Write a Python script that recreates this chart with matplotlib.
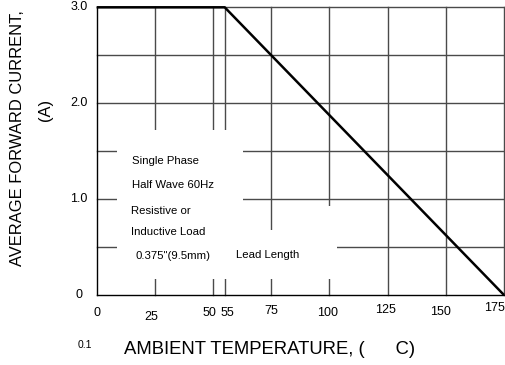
import matplotlib
matplotlib.use("Agg")
import matplotlib.pyplot as plt
import matplotlib.transforms as mtransforms
from matplotlib.patches import Rectangle

# ---- data ----
curve_temp = [0, 55, 175]
curve_current = [3.0, 3.0, 0.0]
x_ticks = [0, 25, 50, 55, 75, 100, 125, 150, 175]
x_tick_labels = ["0", "25", "50", "55", "75", "100", "125", "150", "175"]
y_ticks = [0, 1.0, 2.0, 3.0]
y_tick_labels = ["0", "1.0", "2.0", "3.0"]
x_grid = [25, 50, 55, 75, 100, 125, 150, 175]
y_grid = [0.5, 1.0, 1.5, 2.0, 2.5, 3.0]
notes = ["Single Phase", "Half Wave 60Hz", "Resistive or", "Inductive Load",
         "0.375\"(9.5mm)", "Lead Length"]

# ---- style / layout ----
plt.rcParams['font.family'] = ['Liberation Sans', 'DejaVu Sans']
W, H = 506, 365
fig = plt.figure(figsize=(W / 100, H / 100), dpi=100)
L, R, T, B = 96.7, 504, 7.3, 295
ax = fig.add_axes([L / W, 1 - B / H, (R - L) / W, (B - T) / H])
ax.set_xlim(0, 175)
ax.set_ylim(0, 3.0)

grid_color = '#4a4a4a'
for xv in x_grid:
    ax.axvline(xv, color=grid_color, lw=1.0, zorder=1, clip_on=False)
for yv in y_grid:
    ax.axhline(yv, color=grid_color, lw=1.0, zorder=1, clip_on=False)

# white areas behind the note text
for (x0, y0, x1, y1) in [(8.7, 0.17, 62.9, 1.72), (62.9, 0.17, 103.3, 0.68),
                         (94.0, 0.68, 103.3, 0.93)]:
    ax.add_patch(Rectangle((x0, y0), x1 - x0, y1 - y0, facecolor='white',
                           edgecolor='none', zorder=2))

ax.plot(curve_temp, curve_current, color='black', lw=1.8, zorder=4,
        clip_on=False, solid_capstyle='butt')

for s in ['top', 'right']:
    ax.spines[s].set_visible(False)
for s in ['left', 'bottom']:
    ax.spines[s].set_color('black')
    ax.spines[s].set_linewidth(1.0)
    ax.spines[s].set_zorder(3)

ax.set_xticks([])
ax.set_yticks([])

# x tick labels (staggered, as in the original)
xoff = [0, -4, -4, 3, 0, -2, -2, -5, -9]
yoff = [-18, -22, -18, -18, -16, -18, -15, -17, -13]
for xv, lab, dx, dy in zip(x_ticks, x_tick_labels, xoff, yoff):
    tr = mtransforms.offset_copy(ax.get_xaxis_transform(), fig=fig,
                                 x=dx, y=dy, units='dots')
    ax.text(xv, 0, lab, transform=tr, ha='center', va='center', fontsize=9)

for yv, lab in zip(y_ticks, y_tick_labels):
    tr = mtransforms.offset_copy(ax.get_yaxis_transform(), fig=fig,
                                 x=-17.5, y=0, units='dots')
    ax.text(0, yv, lab, transform=tr, ha='center', va='center', fontsize=9)

# notes
note_pos = [(132, 161), (132, 185), (131, 211), (131, 232), (135, 256), (236, 255)]
for txt, (px, py) in zip(notes, note_pos):
    fig.text(px / W, 1 - py / H, txt, ha='left', va='center', fontsize=8.2)

# axis titles
fig.text(270 / W, 1 - 350 / H, "AMBIENT TEMPERATURE, (      C)",
         ha='center', va='center', fontsize=13.3)
fig.text(85 / W, 1 - 345 / H, "0.1", ha='center', va='center', fontsize=7.5)
fig.text(18 / W, 1 - 138 / H, "AVERAGE FORWARD CURRENT,", rotation=90,
         ha='center', va='center', fontsize=11.9)
fig.text(46 / W, 1 - 110 / H, "(A)", rotation=90,
         ha='center', va='center', fontsize=11.9)

fig.savefig("out.png", dpi=100)
